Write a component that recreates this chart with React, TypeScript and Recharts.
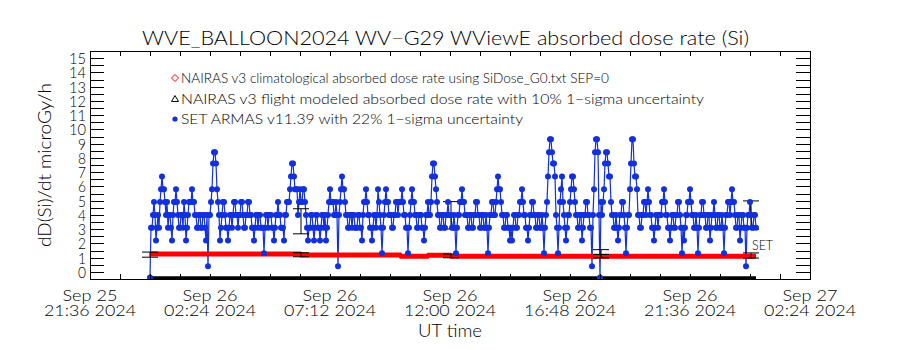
import { ComposedChart, Line, Scatter, XAxis, YAxis, ErrorBar } from "recharts";

// x = hours after Sep 25 21:36 UT
const xTickHours = [0, 4.8, 9.6, 14.4, 19.2, 24, 28.8];
const xTickDates = ["Sep 25", "Sep 26", "Sep 26", "Sep 26", "Sep 26", "Sep 26", "Sep 27"];
const xTickTimes = ["21:36 2024", "02:24 2024", "07:12 2024", "12:00 2024", "16:48 2024", "21:36 2024", "02:24 2024"];
const xMinorTicks = Array.from({ length: 25 }, (_, i) => i * 1.2);
const yTicks = Array.from({ length: 31 }, (_, i) => i * 0.5);

// SET ARMAS v11.39, one sample every 0.04 h from Sep 26 00:00
const ARMAS_START_H = 2.4;
const ARMAS_STEP_H = 0.04;
const armasDose = [
  -0.4, 3.1, 3.1, 4.0, 4.9, 4.0, 2.2, 3.1, 4.0, 3.1, 4.9, 5.8, 6.7, 5.8, 5.8, 4.9, 4.0, 4.9, 3.1, 4.0, 4.0, 3.1, 2.2, 4.0, 4.9, 4.9, 5.8, 4.9, 4.0, 3.1,
  3.1, 4.0, 4.0, 3.1, 4.9, 4.0, 2.2, 3.1, 4.0, 4.9, 4.9, 4.9, 5.8, 4.9, 4.9, 4.0, 4.0, 3.1, 3.1, 4.0, 4.0, 3.1, 3.1, 4.0, 4.0, 3.1, 2.2, 4.0, 0.4, 4.0,
  4.0, 4.9, 5.8, 7.6, 8.4, 8.4, 7.6, 5.8, 4.9, 4.0, 2.2, 3.1, 4.0, 4.9, 4.9, 4.0, 3.1, 3.1, 2.2, 3.1, 4.0, 4.0, 3.1, 4.0, 4.9, 4.9, 4.0, 4.0, 3.1, 4.0,
  4.0, 4.9, 4.9, 4.0, 3.1, 3.1, 4.0, 4.0, 4.9, 4.9, 4.0, 4.0, 3.1, 3.1, 2.2, 3.1, 4.0, 4.0, 3.1, 4.0, 4.0, 3.1, 3.1, 3.1, 1.3, 3.1, 4.0, 4.0, 3.1, 4.0,
  4.0, 4.0, 3.1, 3.1, 2.2, 3.1, 4.0, 4.0, 4.9, 4.0, 4.0, 3.1, 3.1, 3.1, 2.2, 4.0, 4.0, 4.9, 4.9, 4.9, 5.8, 6.7, 7.6, 7.6, 6.7, 5.8, 5.8, 5.8, 4.0, 4.9,
  5.8, 4.9, 4.9, 5.8, 5.8, 4.9, 4.0, 3.1, 2.2, 3.1, 3.1, 4.0, 4.0, 3.1, 2.2, 3.1, 4.0, 4.0, 3.1, 3.1, 2.2, 3.1, 4.0, 4.0, 3.1, 4.0, 2.2, 3.1, 4.0, 4.9,
  5.8, 4.9, 4.9, 4.9, 4.0, 4.0, 4.9, 4.0, 0.4, 4.0, 4.9, 5.8, 6.7, 5.8, 5.8, 4.9, 4.0, 4.0, 3.1, 3.1, 4.0, 4.0, 3.1, 4.0, 4.0, 3.1, 3.1, 3.1, 4.0, 4.0,
  3.1, 3.1, 2.2, 4.0, 4.9, 4.9, 5.8, 4.9, 4.0, 4.0, 3.1, 3.1, 2.2, 3.1, 4.0, 4.0, 3.1, 4.0, 5.8, 4.9, 4.0, 3.1, 1.3, 3.1, 4.0, 4.9, 5.8, 4.9, 4.9, 4.0,
  4.0, 4.0, 3.1, 3.1, 4.0, 4.0, 4.9, 4.9, 4.0, 4.9, 4.9, 4.9, 5.8, 4.9, 4.0, 4.0, 3.1, 3.1, 1.3, 3.1, 4.0, 4.9, 5.8, 4.9, 4.9, 4.0, 4.0, 3.1, 3.1, 4.0,
  4.0, 4.0, 3.1, 3.1, 2.2, 3.1, 4.0, 4.0, 4.9, 4.0, 4.0, 4.9, 6.7, 7.6, 7.6, 6.7, 5.8, 4.9, 4.0, 4.0, 3.1, 3.1, 4.0, 4.0, 3.1, 3.1, 4.0, 4.0, 4.9, 4.0,
  4.0, 4.0, 3.1, 3.1, 4.0, 3.1, 1.3, 3.1, 4.0, 4.0, 4.9, 4.9, 5.8, 4.9, 4.9, 4.0, 4.0, 4.0, 3.1, 3.1, 4.0, 4.0, 3.1, 3.1, 4.0, 4.0, 4.9, 4.9, 4.0, 4.0,
  3.1, 3.1, 4.0, 4.0, 3.1, 3.1, 4.0, 3.1, 1.3, 3.1, 4.0, 4.0, 4.9, 4.9, 4.0, 4.0, 4.9, 5.8, 6.7, 5.8, 5.8, 4.9, 4.0, 4.0, 3.1, 3.1, 4.0, 4.0, 3.1, 3.1,
  2.2, 3.1, 2.2, 3.1, 4.0, 4.0, 3.1, 3.1, 4.0, 4.0, 4.9, 4.9, 5.8, 4.9, 4.0, 4.0, 3.1, 3.1, 2.2, 3.1, 4.0, 4.0, 4.9, 4.9, 4.0, 4.0, 3.1, 3.1, 4.0, 4.0,
  3.1, 3.1, 4.0, 3.1, 1.3, 3.1, 4.0, 4.9, 6.7, 8.4, 9.3, 9.3, 8.4, 7.6, 7.6, 6.7, 4.0, 3.1, 1.3, 3.1, 4.9, 5.8, 6.7, 4.9, 4.0, 3.1, 2.2, 3.1, 4.0, 4.0,
  4.9, 5.8, 6.7, 6.7, 5.8, 4.9, 4.0, 4.0, 3.1, 3.1, 4.0, 4.0, 2.2, 3.1, 4.0, 4.0, 4.9, 4.9, 4.0, 4.0, 3.1, 3.1, 0.4, 4.0, 5.8, 8.4, 9.3, 9.3, 8.4, 4.0,
  -0.4, 4.9, 4.0, 4.9, 5.8, 7.6, 8.4, 8.4, 7.6, 6.7, 6.7, 4.9, 4.0, 4.0, 3.1, 3.1, 4.0, 3.1, 2.2, 3.1, 4.0, 4.0, 4.9, 4.9, 4.0, 3.1, 1.3, 3.1, 4.0, 4.0,
  5.8, 7.6, 9.3, 9.3, 7.6, 6.7, 6.7, 5.8, 4.0, 4.0, 3.1, 3.1, 4.0, 4.0, 4.9, 4.9, 4.0, 4.9, 5.8, 4.9, 4.0, 4.0, 3.1, 3.1, 2.2, 3.1, 4.0, 4.0, 3.1, 4.0,
  4.0, 4.0, 4.9, 4.9, 5.8, 4.9, 4.0, 4.0, 3.1, 3.1, 2.2, 3.1, 4.0, 4.0, 3.1, 3.1, 4.0, 4.0, 4.9, 4.9, 4.0, 3.1, 1.3, 3.1, 2.2, 3.1, 4.0, 4.0, 4.9, 4.9,
  5.8, 4.9, 4.0, 4.0, 3.1, 3.1, 4.0, 3.1, 1.3, 3.1, 4.0, 4.0, 4.9, 4.9, 4.0, 4.0, 3.1, 3.1, 4.0, 4.0, 2.2, 3.1, 4.0, 4.0, 4.9, 4.0, 3.1, 3.1, 4.0, 4.0,
  3.1, 3.1, 4.0, 3.1, 1.3, 3.1, 4.0, 4.0, 4.9, 4.9, 4.0, 4.9, 5.8, 4.9, 4.9, 4.0, 3.1, 3.1, 4.0, 4.0, 2.2, 3.1, 4.0, 4.0, 3.1, 3.1, 0.4, 3.1, 4.0, 4.0,
  4.9, 4.0, 3.1, 3.1, 4.0, 4.0, 3.1,
];
// ARMAS 22% 1-sigma error bars
const armasErrHours = [8.44, 14.44, 20.44, 26.44];
const armasErrDose = [3.55, 3.97, 1.28, 3.99];
const armasErr = [0.88, 0.96, 0.28, 0.99];

// NAIRAS climatological (SiDose_G0, SEP=0)
const nairasClimHours = [2.4, 8.4, 8.44, 12.4, 12.44, 13.5, 13.54, 14.4, 14.44, 26.64];
const nairasClimDose = [1.25, 1.25, 1.18, 1.18, 1.1, 1.1, 1.17, 1.17, 1.1, 1.1];

// NAIRAS flight modeled, 10% 1-sigma
const flightHours = [2.4, 8.44, 14.44, 20.44, 26.44];
const flightDose = [1.21, 1.2, 1.12, 1.1, 1.15];
const flightErr = [0.18, 0.14, 0.13, 0.12, 0.18];
const flightBaseHours = [2.32, 26.64];
const flightBaseDose = [-0.42, -0.42];

const armasData = armasDose.map((dose, i) => ({ h: ARMAS_START_H + i * ARMAS_STEP_H, dose }));
const armasErrData = armasErrHours.map((h, i) => ({ h, dose: armasErrDose[i], err: armasErr[i] }));
const climData = nairasClimHours.map((h, i) => ({ h, dose: nairasClimDose[i] }));
const flightData = flightHours.map((h, i) => ({ h, dose: flightDose[i], err: flightErr[i] }));
const flightBase = flightBaseHours.map((h, i) => ({ h, dose: flightBaseDose[i] }));

const BLUE = "#1230dc";
const RED = "#ff0000";
const FONT = "Lato, 'Liberation Sans', sans-serif";
const TOP = 51;
const BOTTOM = 279;
const LEFT = 90;
const RIGHT = 810;

function XTick(props: any) {
  const { x, payload } = props;
  const px = Math.round(x) + 0.5;
  const k = xTickHours.findIndex((t) => Math.abs(t - payload.value) < 1e-6);
  return (
    <g>
      <line x1={px} x2={px} y1={BOTTOM} y2={BOTTOM - 5} stroke="#000" />
      <line x1={px} x2={px} y1={TOP} y2={TOP + 5} stroke="#000" />
      {k >= 0 && (
        <g fontFamily={FONT} fontWeight={300} fontSize={16} fill="#000" textAnchor="middle">
          <text x={x} y={301} textLength={55} lengthAdjust="spacingAndGlyphs">{xTickDates[k]}</text>
          <text x={x} y={316} textLength={92} lengthAdjust="spacingAndGlyphs">{xTickTimes[k]}</text>
        </g>
      )}
    </g>
  );
}

function YTick(props: any) {
  const { y, payload } = props;
  const py = Math.round(y) + 0.5;
  const v = payload.value;
  const isInt = Math.abs(v - Math.round(v)) < 1e-6;
  const label = String(Math.round(v));
  return (
    <g>
      <line x1={LEFT} x2={LEFT + 14} y1={py} y2={py} stroke="#000" />
      <line x1={RIGHT} x2={RIGHT - 14} y1={py} y2={py} stroke="#000" />
      {isInt && (
        <text x={86} y={y + 6} textAnchor="end" fontFamily={FONT} fontWeight={300} fontSize={15.5} fill="#000"
          textLength={label.length > 1 ? 17 : 8} lengthAdjust="spacingAndGlyphs">{label}</text>
      )}
    </g>
  );
}

const legendRows = [
  "NAIRAS v3 climatological absorbed dose rate using SiDose_G0.txt SEP=0",
  "NAIRAS v3 flight modeled absorbed dose rate with 10% 1\u2212sigma uncertainty",
  "SET ARMAS v11.39 with 22% 1\u2212sigma uncertainty",
];
const legendWidths = [428, 523, 342];

export default function App() {
  return (
    <div style={{ position: "absolute", left: 0, top: 0, width: 900, height: 350, background: "#fff" }}>
      <ComposedChart width={900} height={350} margin={{ top: 51, right: 90, bottom: 21, left: 50 }}>
        <XAxis dataKey="h" type="number" domain={[0, 28.8]} ticks={xMinorTicks} interval={0}
          allowDataOverflow axisLine={false} tickLine={false} tickSize={0} tickMargin={0} height={50}
          tick={(p: any) => <XTick {...p} />} />
        <YAxis type="number" domain={[-0.5, 15.5]} ticks={yTicks} interval={0} allowDataOverflow
          axisLine={false} tickLine={false} tickSize={0} tickMargin={0} width={40}
          tick={(p: any) => <YTick {...p} />} />
        <Line data={flightBase} dataKey="dose" type="linear" stroke="#000" strokeWidth={3}
          dot={false} isAnimationActive={false} />
        <Line data={armasData} dataKey="dose" type="linear" stroke={BLUE} strokeWidth={1.2}
          dot={{ r: 3, fill: BLUE, stroke: "none" }} isAnimationActive={false} />
        <Line data={climData} dataKey="dose" type="linear" stroke={RED} strokeWidth={5}
          dot={false} isAnimationActive={false} />
        <Scatter data={armasErrData} dataKey="dose" shape={() => <g />} isAnimationActive={false}>
          <ErrorBar dataKey="err" direction="y" width={8} stroke="#000" strokeWidth={1} />
        </Scatter>
        <Scatter data={flightData} dataKey="dose" shape={() => <g />} isAnimationActive={false}>
          <ErrorBar dataKey="err" direction="y" width={8} stroke="#000" strokeWidth={1} />
        </Scatter>
      </ComposedChart>
      <svg width={900} height={350} style={{ position: "absolute", left: 0, top: 0, pointerEvents: "none" }}
        fontFamily={FONT} fontWeight={300} fill="#000">
        <rect x={LEFT + 0.5} y={TOP + 0.5} width={RIGHT - LEFT} height={BOTTOM - TOP} fill="none" stroke="#000" />
        <text x={445.5} y={45} fontSize={20} textAnchor="middle" textLength={607} lengthAdjust="spacingAndGlyphs">
          WVE_BALLOON2024 WV{"\u2212"}G29 WViewE absorbed dose rate (Si)
        </text>
        <text transform="translate(51,165) rotate(-90)" fontSize={17} textAnchor="middle"
          textLength={164} lengthAdjust="spacingAndGlyphs">dD(Si)/dt microGy/h</text>
        <text x={450} y={337} fontSize={17} textAnchor="middle" textLength={64} lengthAdjust="spacingAndGlyphs">UT time</text>
        <text x={752} y={250} fontSize={14} textLength={21} lengthAdjust="spacingAndGlyphs">SET</text>
        <path d="M175,74.5 L178.5,78 L175,81.5 L171.5,78 Z" fill="none" stroke={RED} strokeWidth={1} />
        <path d="M175,95.5 L178.5,101.5 L171.5,101.5 Z" fill="none" stroke="#000" strokeWidth={1} />
        <circle cx={175} cy={119} r={2.6} fill={BLUE} />
        {legendRows.map((t, i) => (
          <text key={i} x={181} y={83 + i * 20.5} fontSize={13.5} textLength={legendWidths[i]}
            lengthAdjust="spacingAndGlyphs">{t}</text>
        ))}
      </svg>
    </div>
  );
}
